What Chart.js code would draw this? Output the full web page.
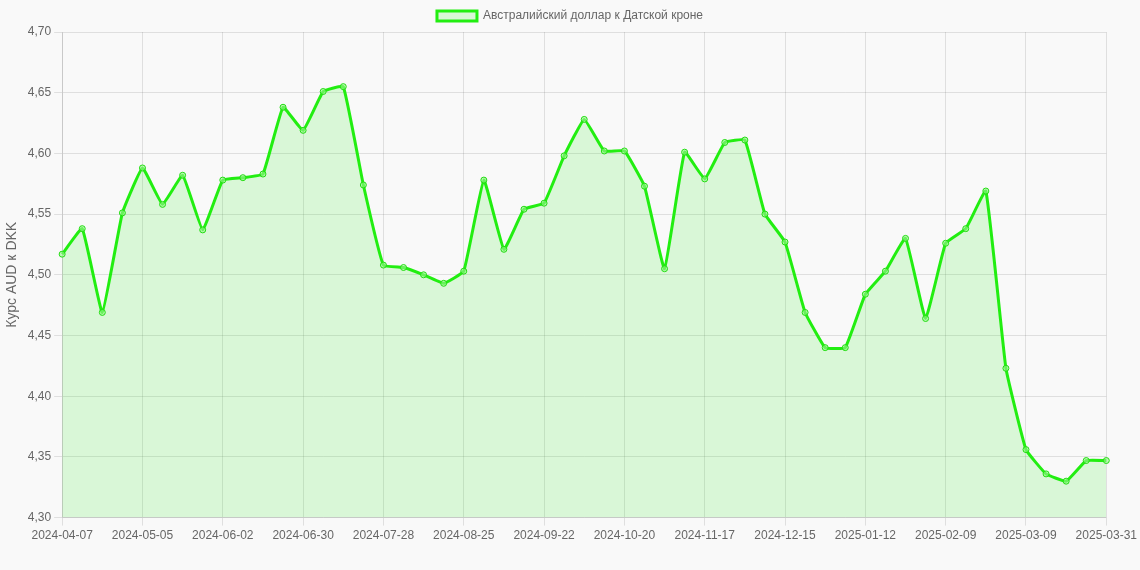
<!DOCTYPE html>
<html>
<head>
<meta charset="utf-8">
<script src="https://cdn.jsdelivr.net/npm/chart.js@4"></script>
<style>
  body { margin: 0; background: #f9f9f9; }
  #wrap { width: 1140px; height: 570px; }
</style>
</head>
<body>
<div id="wrap"><canvas id="chart"></canvas></div>
<script>
// weekly dates, last point is the final quote date
const labels = [];
const start = new Date(Date.UTC(2024, 3, 7));
for (let i = 0; i < 52; i++) {
  const d = new Date(start.getTime() + i * 7 * 86400000);
  labels.push(d.toISOString().slice(0, 10));
}
labels.push("2025-03-31");

const rates = [4.517, 4.538, 4.469, 4.551, 4.588, 4.558, 4.582, 4.537, 4.578, 4.580,
  4.583, 4.638, 4.619, 4.651, 4.655, 4.574, 4.508, 4.506, 4.500, 4.493,
  4.503, 4.578, 4.521, 4.554, 4.559, 4.598, 4.628, 4.602, 4.602, 4.573,
  4.505, 4.601, 4.579, 4.609, 4.611, 4.550, 4.527, 4.469, 4.440, 4.440,
  4.484, 4.503, 4.530, 4.464, 4.526, 4.538, 4.569, 4.423, 4.356, 4.336,
  4.330, 4.347, 4.347];

const shown = i => i % 4 === 0 || i === labels.length - 1;

Chart.defaults.font.family = "'Liberation Sans', Arial, sans-serif";
Chart.defaults.font.size = 12;
Chart.defaults.color = "#666";

new Chart(document.getElementById("chart"), {
  type: "line",
  data: {
    labels: labels,
    datasets: [{
      label: "Австралийский доллар к Датской кроне",
      data: rates,
      borderColor: "#22ee11",
      backgroundColor: "rgba(34,238,17,0.15)",
      pointBackgroundColor: "rgba(150,245,140,0.6)",
      pointBorderColor: "#22dd11",
      pointBorderWidth: 1,
      pointRadius: 3,
      borderWidth: 3,
      fill: true,
      tension: 0.1
    }]
  },
  layout: { padding: { bottom: 24 } },
  options: {
    responsive: true,
    maintainAspectRatio: false,
    animation: false,
    layout: { padding: { bottom: 24 } },
    plugins: {
      legend: {
        labels: { boxWidth: 40, boxHeight: 10 }
      }
    },
    scales: {
      x: {
        grid: {
          color: ctx => shown(ctx.index) ? "rgba(0,0,0,0.1)" : "rgba(0,0,0,0)"
        },
        ticks: {
          autoSkip: false,
          maxRotation: 0,
          callback: (v, i) => shown(i) ? labels[i] : ""
        }
      },
      y: {
        min: 4.30,
        max: 4.70,
        title: { display: true, text: "Курс AUD к DKK", font: { size: 14 } },
        grid: { color: "rgba(0,0,0,0.1)" },
        ticks: {
          stepSize: 0.05,
          callback: v => v.toFixed(2).replace(".", ",")
        }
      }
    }
  }
});
</script>
</body>
</html>
